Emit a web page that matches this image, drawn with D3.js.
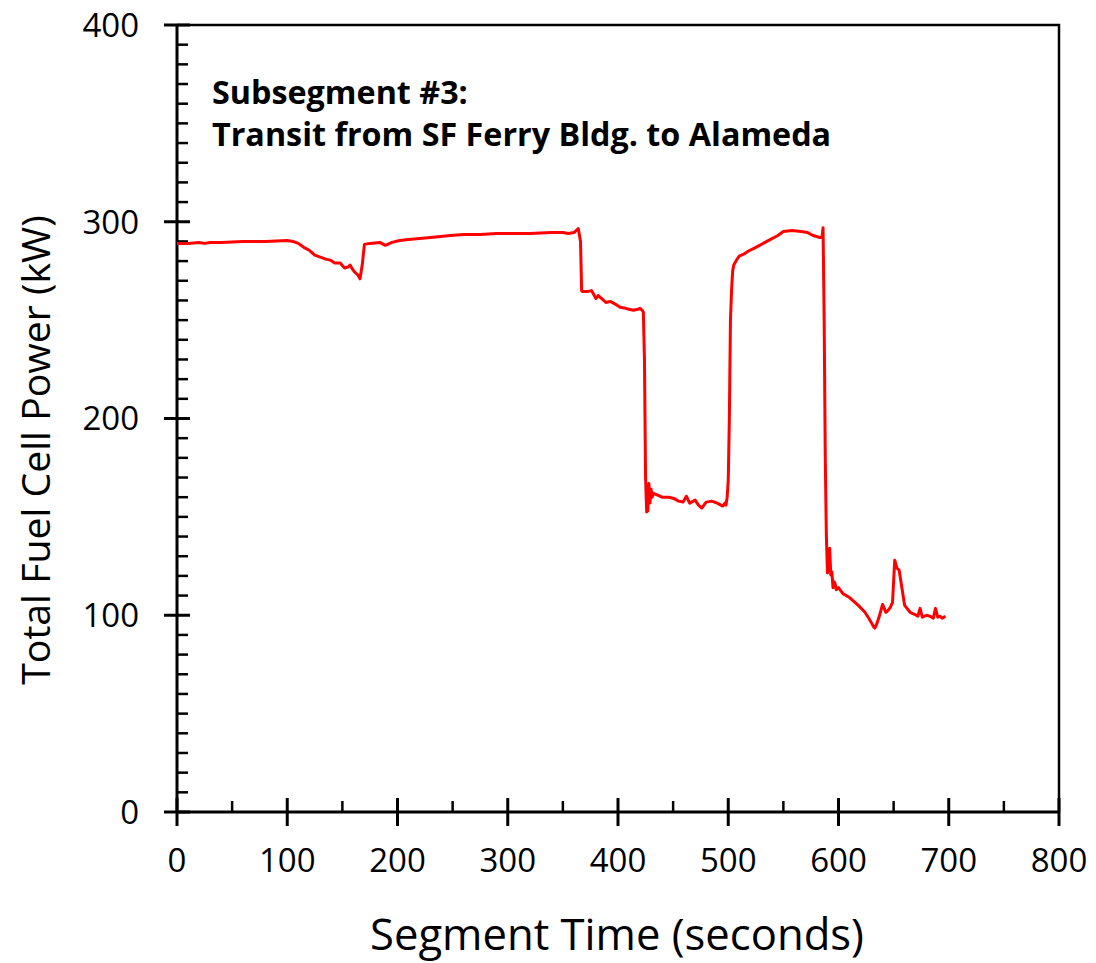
<!DOCTYPE html>
<html>
<head>
<meta charset="utf-8">
<script src="https://cdn.jsdelivr.net/npm/d3@7"></script>
<style>
  body { margin: 0; background: #fff; }
  text { font-family: "Open Sans", Lato, sans-serif; fill: #000; }
</style>
</head>
<body>
<div id="chart"></div>
<script>
// time (s) and total fuel cell power (kW)
var times = [0, 10, 20, 25, 30, 40, 60, 80, 100, 105, 110, 115, 120, 125, 130, 135, 139, 143, 148, 152, 155, 157, 159, 161, 164, 166, 168, 170, 175, 184, 189, 195, 202, 210, 220, 230, 239, 248, 260, 275, 290, 300, 310, 320, 340, 350, 355, 360, 362, 364, 366, 367, 368, 372, 376, 378, 380, 382, 385, 389, 393, 398, 402, 407, 410, 414, 418, 420, 422, 423, 424, 425, 426, 427, 428, 429, 430, 431, 432, 436, 440, 446, 450, 455, 459, 462, 465, 470, 473, 476, 480, 485, 490, 495, 497, 498, 499, 500, 501, 502, 503, 504, 505, 508, 510, 514, 518, 525, 535, 545, 550, 558, 566, 572, 577, 580, 583, 585, 586, 587, 588, 589, 590, 591, 592, 593, 594, 595, 596, 597, 598, 600, 604, 610, 618, 624, 628, 630, 632, 633, 635, 637, 640, 643, 645, 647, 649, 651, 653, 655, 660, 665, 669, 672, 674, 676, 680, 683, 686, 688, 690, 692, 694, 697];
var power = [289, 289, 289.5, 289, 289.5, 289.5, 290, 290, 290.5, 290, 289, 287, 285.5, 283, 282, 281, 280.5, 279, 279, 276.5, 277, 278, 276, 274.5, 273, 271, 278, 288.5, 289, 289.5, 288, 289.5, 290.5, 291, 291.5, 292, 292.5, 293, 293.5, 293.5, 294, 294, 294, 294, 294.5, 294.5, 294, 294.5, 295.5, 296.5, 290, 265, 264.5, 264.5, 265, 263, 261, 262.5, 261, 259, 259.5, 258, 256.5, 256, 255.5, 255, 255.5, 256, 255, 254, 230, 170, 152.5, 153, 167, 157, 164, 160, 162, 161, 160, 160, 159.5, 158, 157.5, 160.5, 157, 158.5, 156, 154.5, 157.5, 158, 157, 155.5, 157, 156, 160, 168.5, 200, 250, 265, 275, 278, 281, 282.5, 283.5, 285, 287, 290, 293, 295, 295.5, 295, 294.5, 293, 292.5, 292, 292, 297, 250, 180, 140, 121.5, 125, 134, 120.5, 122, 114, 117, 116, 113, 114, 111, 109, 105, 101.5, 98, 96, 94, 93.5, 96, 99.5, 105.5, 101.5, 102.5, 104, 106.5, 128, 124, 123, 105, 101.5, 100.5, 99.5, 103.5, 99, 100, 99.5, 98.5, 103.5, 99, 99.5, 98.5, 99.5, 99];

var xTicks = [0, 100, 200, 300, 400, 500, 600, 700, 800];
var yTicks = [0, 100, 200, 300, 400];

var W = 1096, H = 963;
var margin = { top: 25, right: 37, bottom: 151, left: 177 };

var svg = d3.select("#chart").append("svg")
  .attr("width", W)
  .attr("height", H);

var x = d3.scaleLinear().domain([0, 800]).range([margin.left, W - margin.right]);
var y = d3.scaleLinear().domain([0, 400]).range([H - margin.bottom, margin.top]);

var y0 = y(0), x0 = x(0);

// shrink/grow a text's font size so it spans the wanted width
function fitText(sel, width) {
  var fs = +sel.attr("font-size");
  var len = sel.node().getComputedTextLength();
  sel.attr("font-size", (fs * width / len).toFixed(1));
}

// frame: top and right sides
svg.append("path")
  .attr("d", "M" + x0 + "," + y(400) + "H" + x(800) + "V" + y0)
  .attr("fill", "none")
  .attr("stroke", "#000")
  .attr("stroke-width", 2.5);

// minor ticks, inward
var yMinor = d3.range(0, 401, 10).filter(function (v) { return v % 100 !== 0; });
svg.selectAll(".yminor").data(yMinor).enter().append("line")
  .attr("x1", x0).attr("x2", x0 + 11)
  .attr("y1", function (d) { return y(d); })
  .attr("y2", function (d) { return y(d); })
  .attr("stroke", "#000").attr("stroke-width", 2.5);

var xMinor = d3.range(50, 800, 100);
svg.selectAll(".xminor").data(xMinor).enter().append("line")
  .attr("x1", function (d) { return x(d); })
  .attr("x2", function (d) { return x(d); })
  .attr("y1", y0).attr("y2", y0 - 11)
  .attr("stroke", "#000").attr("stroke-width", 2.5);

// major ticks crossing the axis
svg.selectAll(".ymajor").data(yTicks).enter().append("line")
  .attr("x1", x0 - 13).attr("x2", x0 + 13)
  .attr("y1", function (d) { return y(d); })
  .attr("y2", function (d) { return y(d); })
  .attr("stroke", "#000").attr("stroke-width", 3);

svg.selectAll(".xmajor").data(xTicks).enter().append("line")
  .attr("x1", function (d) { return x(d); })
  .attr("x2", function (d) { return x(d); })
  .attr("y1", y0 - 14).attr("y2", y0 + 14)
  .attr("stroke", "#000").attr("stroke-width", 3);

// axis lines
svg.append("line")
  .attr("x1", x0).attr("x2", x0)
  .attr("y1", y(400)).attr("y2", y0)
  .attr("stroke", "#000").attr("stroke-width", 3);
svg.append("line")
  .attr("x1", x0).attr("x2", x(800))
  .attr("y1", y0).attr("y2", y0)
  .attr("stroke", "#000").attr("stroke-width", 3);

// tick labels
svg.selectAll(".ylab").data(yTicks).enter().append("text")
  .attr("x", 139)
  .attr("y", function (d) { return y(d); })
  .attr("dy", "0.36em")
  .attr("text-anchor", "end")
  .attr("font-size", 33)
  .text(function (d) { return d; });

svg.selectAll(".xlab").data(xTicks).enter().append("text")
  .attr("x", function (d) { return x(d); })
  .attr("y", 872)
  .attr("text-anchor", "middle")
  .attr("font-size", 33)
  .text(function (d) { return d; });

// axis titles
var xTitle = svg.append("text")
  .attr("x", 617).attr("y", 950)
  .attr("text-anchor", "middle")
  .attr("font-size", 36)
  .text("Segment Time (seconds)");
fitText(xTitle, 494);

var yTitle = svg.append("text")
  .attr("transform", "translate(50," + 450 + ") rotate(-90)")
  .attr("text-anchor", "middle")
  .attr("font-size", 36)
  .text("Total Fuel Cell Power (kW)");
fitText(yTitle, 470);

// annotation
var note1 = svg.append("text")
  .attr("x", 212).attr("y", 104)
  .attr("font-size", 27).attr("font-weight", "bold")
  .text("Subsegment #3:");
var note2 = svg.append("text")
  .attr("x", 212).attr("y", 146)
  .attr("font-size", 27).attr("font-weight", "bold")
  .text("Transit from SF Ferry Bldg. to Alameda");
fitText(note2, 620);
note1.attr("font-size", note2.attr("font-size"));

// the data line
var pts = times.map(function (t, i) { return [t, power[i]]; });
var line = d3.line()
  .x(function (d) { return x(d[0]); })
  .y(function (d) { return y(d[1]); });

svg.append("path")
  .datum(pts)
  .attr("d", line)
  .attr("fill", "none")
  .attr("stroke", "#ff0000")
  .attr("stroke-width", 3)
  .attr("stroke-linejoin", "round");
</script>
</body>
</html>
